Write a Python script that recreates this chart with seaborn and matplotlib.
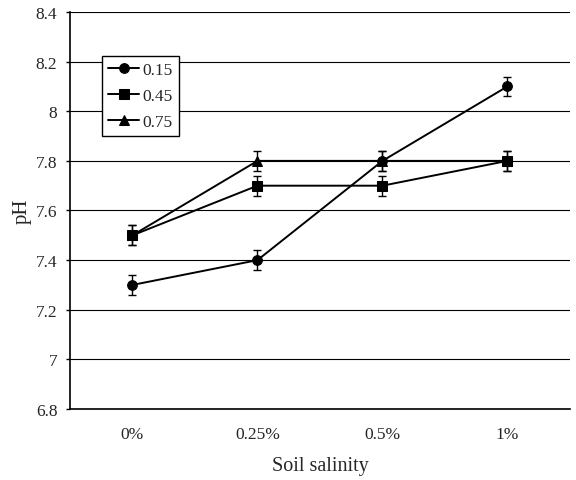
import numpy as np
import pandas as pd
import matplotlib
matplotlib.use("Agg")
import matplotlib.pyplot as plt
import seaborn as sns

categories = ["0%", "0.25%", "0.5%", "1%"]
series_names = ["0.15", "0.45", "0.75"]
ph_015 = [7.3, 7.4, 7.8, 8.1]
ph_045 = [7.5, 7.7, 7.7, 7.8]
ph_075 = [7.5, 7.8, 7.8, 7.8]
err_015 = [0.04, 0.04, 0.04, 0.04]
err_045 = [0.04, 0.04, 0.04, 0.04]
err_075 = [0.04, 0.04, 0.04, 0.04]

values = {"0.15": ph_015, "0.45": ph_045, "0.75": ph_075}
errors = {"0.15": err_015, "0.45": err_045, "0.75": err_075}

rows = []
for name in series_names:
    for i, cat in enumerate(categories):
        rows.append({"pos": i, "salinity": cat, "series": name,
                     "pH": values[name][i], "err": errors[name][i]})
df = pd.DataFrame(rows)

sns.set_style("white")
plt.rcParams["font.family"] = ["Liberation Serif", "DejaVu Serif"]

fig = plt.figure(figsize=(5.76, 4.81), dpi=100)
ax = fig.add_axes([0.1215, 0.1476, 0.868, 0.8254])

markers = {"0.15": "o", "0.45": "s", "0.75": "^"}
msizes = {"0.15": 7, "0.45": 6.5, "0.75": 7.5}
zorders = {"0.15": 4, "0.45": 4, "0.75": 3}
for name in ["0.75", "0.15", "0.45"]:
    sub = df[df["series"] == name]
    ax.errorbar(sub["pos"], sub["pH"], yerr=sub["err"], fmt="none",
                ecolor="black", elinewidth=1, capsize=3, capthick=1,
                zorder=zorders[name])
    sns.lineplot(data=sub, x="pos", y="pH", ax=ax, color="black",
                 marker=markers[name], markersize=msizes[name],
                 markeredgecolor="black", markerfacecolor="black",
                 linewidth=1.4, label=name, zorder=zorders[name])

ax.set_xlim(-0.5, 3.5)
ax.set_ylim(6.8, 8.4)
ax.set_yticks(np.arange(6.8, 8.41, 0.2))
ax.set_yticklabels(["6.8", "7", "7.2", "7.4", "7.6", "7.8", "8", "8.2", "8.4"])
ax.set_xticks(range(len(categories)))
ax.set_xticklabels(categories)
ax.set_xticks([0.5, 1.5, 2.5], minor=True)
ax.tick_params(axis="x", which="major", length=0, labelsize=12.5, pad=12)
ax.tick_params(axis="x", which="minor", length=3, width=1, direction="out", color="black")
ax.tick_params(axis="y", length=3, width=1, direction="out", color="black",
               labelsize=12.5, left=True, pad=6)
ax.yaxis.grid(True, color="black", linewidth=0.8)
ax.set_axisbelow(True)

for side in ["top", "right"]:
    ax.spines[side].set_visible(False)
for side in ["left", "bottom"]:
    ax.spines[side].set_color("black")
    ax.spines[side].set_linewidth(1.2)

ax.set_xlabel("Soil salinity", fontsize=14.5, labelpad=10)
ax.set_ylabel("pH", fontsize=15, labelpad=3)

handles, labels = ax.get_legend_handles_labels()
order = [labels.index(n) for n in series_names]
leg = ax.legend([handles[i] for i in order], [labels[i] for i in order],
                loc="upper left", bbox_to_anchor=(0.064, 0.889), borderaxespad=0,
                fontsize=12.5, frameon=True, fancybox=False, edgecolor="black",
                handlelength=1.8, handletextpad=0.2, labelspacing=0.55,
                borderpad=0.35)
leg.get_frame().set_linewidth(1)
leg.get_frame().set_alpha(1)

fig.savefig("out.png", dpi=100)
